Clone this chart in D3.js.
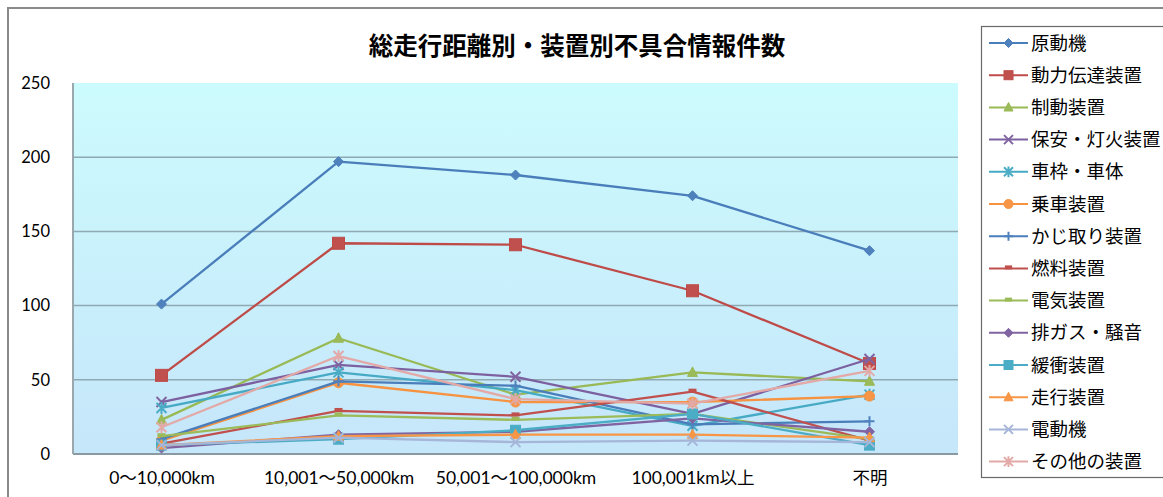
<!DOCTYPE html>
<html>
<head>
<meta charset="utf-8">
<script src="https://cdn.jsdelivr.net/npm/d3@7"></script>
<style>
  html, body { margin: 0; padding: 0; background: #fff; }
  svg { display: block; }
</style>
</head>
<body>
<svg id="chart" width="1163" height="497"></svg>
<script>
// Mileage bands on the horizontal axis
const categories = ["0～10,000km", "10,001～50,000km", "50,001～100,000km", "100,001km以上", "不明"];

// Defect reports per device group, one array per band order above
const seriesNames = ["原動機", "動力伝達装置", "制動装置", "保安・灯火装置", "車枠・車体", "乗車装置", "かじ取り装置",
                     "燃料装置", "電気装置", "排ガス・騒音", "緩衝装置", "走行装置", "電動機", "その他の装置"];
const genDoki     = [101, 197, 188, 174, 137];
const doryoku     = [53, 142, 141, 110, 61];
const seido       = [23, 78, 40, 55, 49];
const hoan        = [35, 60, 52, 27, 64];
const shawaku     = [31, 55, 43, 19, 40];
const josha       = [9, 48, 35, 35, 39];
const kajitori    = [10, 49, 46, 20, 22];
const nenryo      = [7, 29, 26, 42, 9];
const denki       = [12, 26, 23, 27, 10];
const haigas      = [4, 13, 15, 24, 15];
const kansho      = [6, 10, 16, 27, 6];
const soko        = [6, 12, 13, 13, 11];
const dendoki     = [6, 11, 8, 9, 8];
const sonota      = [18, 66, 37, 34, 56];
const seriesValues = [genDoki, doryoku, seido, hoan, shawaku, josha, kajitori,
                      nenryo, denki, haigas, kansho, soko, dendoki, sonota];

const yTicks = [0, 50, 100, 150, 200, 250];
const titleText = "総走行距離別・装置別不具合情報件数";

// Styling per series: line colour, marker fill and marker shape
const styles = [
  { line: "#4A7EBB", fill: "#4F81BD", shape: "diamond" },
  { line: "#BE4B48", fill: "#C0504D", shape: "square" },
  { line: "#98B954", fill: "#9BBB59", shape: "triangle" },
  { line: "#7D60A0", fill: "#8064A2", shape: "x" },
  { line: "#46AAC5", fill: "#4BACC6", shape: "asterisk" },
  { line: "#F69240", fill: "#F79646", shape: "circle" },
  { line: "#4A7EBB", fill: "#4F81BD", shape: "plus" },
  { line: "#C0504D", fill: "#C0504D", shape: "dash" },
  { line: "#9BBB59", fill: "#9BBB59", shape: "dash" },
  { line: "#8064A2", fill: "#8064A2", shape: "diamond" },
  { line: "#4BACC6", fill: "#4BACC6", shape: "square" },
  { line: "#F79646", fill: "#F79646", shape: "triangle" },
  { line: "#A5B6D8", fill: "#A5B6D8", shape: "x" },
  { line: "#E2A9A7", fill: "#E2A9A7", shape: "asterisk" }
];

const svg = d3.select("#chart");
const plot = { left: 73, right: 958, top: 83, bottom: 454 };

// Outer chart frame
svg.append("rect")
  .attr("x", 8).attr("y", 8).attr("width", 1170).attr("height", 500)
  .attr("fill", "#fff").attr("stroke", "#8a8a8a").attr("stroke-width", 2);

// Plot area gradient
const defs = svg.append("defs");
const grad = defs.append("linearGradient").attr("id", "plotBg")
  .attr("x1", 0).attr("y1", 0).attr("x2", 0).attr("y2", 1);
grad.append("stop").attr("offset", "0%").attr("stop-color", "#CCFBFD");
grad.append("stop").attr("offset", "100%").attr("stop-color", "#C6E6FA");

svg.append("rect")
  .attr("x", plot.left).attr("y", plot.top)
  .attr("width", plot.right - plot.left).attr("height", plot.bottom - plot.top)
  .attr("fill", "url(#plotBg)");

const x = d3.scalePoint().domain(categories).range([plot.left, plot.right]).padding(0.5);
const y = d3.scaleLinear().domain([0, 250]).range([plot.bottom, plot.top]);

// Horizontal gridlines
svg.append("g")
  .selectAll("line")
  .data(yTicks.filter(t => t > 0 && t < 250))
  .join("line")
  .attr("x1", plot.left).attr("x2", plot.right)
  .attr("y1", d => y(d)).attr("y2", d => y(d))
  .attr("stroke", "#8FA9B3").attr("stroke-width", 1.5);

// Axis frame lines
svg.append("line")
  .attr("x1", plot.left).attr("x2", plot.right)
  .attr("y1", plot.bottom).attr("y2", plot.bottom)
  .attr("stroke", "#8a9aa2").attr("stroke-width", 2);
svg.append("line")
  .attr("x1", plot.left).attr("x2", plot.left)
  .attr("y1", plot.top).attr("y2", plot.bottom)
  .attr("stroke", "#9aa8ae").attr("stroke-width", 2);

// Y axis labels
const yAxis = svg.append("g")
  .attr("transform", `translate(${plot.left},0)`)
  .call(d3.axisLeft(y).tickValues(yTicks).tickSize(0).tickPadding(23));
yAxis.select(".domain").remove();
yAxis.selectAll("text")
  .attr("font-family", "Lato, 'Noto Sans CJK JP', sans-serif")
  .attr("font-size", 16.5).attr("fill", "#000");

// X axis labels
const xAxis = svg.append("g")
  .attr("transform", `translate(0,${plot.bottom})`)
  .call(d3.axisBottom(x).tickSize(0).tickPadding(18));
xAxis.select(".domain").remove();
xAxis.selectAll("text")
  .attr("font-family", "Lato, 'Noto Sans CJK JP', sans-serif")
  .attr("font-size", 17.5).attr("fill", "#000");

// Marker drawing
function drawMarker(g, shape, st, size) {
  const s = size;
  switch (shape) {
    case "diamond":
      g.append("path").attr("d", `M0,${-s}L${s},0L0,${s}L${-s},0Z`)
        .attr("fill", st.fill).attr("stroke", st.line).attr("stroke-width", 1);
      break;
    case "square":
      g.append("rect").attr("x", -s).attr("y", -s).attr("width", 2 * s).attr("height", 2 * s)
        .attr("fill", st.fill).attr("stroke", st.line).attr("stroke-width", 1);
      break;
    case "triangle":
      g.append("path").attr("d", `M0,${-s * 1.1}L${s},${s * 0.8}L${-s},${s * 0.8}Z`)
        .attr("fill", st.fill).attr("stroke", st.line).attr("stroke-width", 1);
      break;
    case "circle":
      g.append("circle").attr("r", s)
        .attr("fill", st.fill).attr("stroke", st.line).attr("stroke-width", 1);
      break;
    case "x":
      g.append("path").attr("d", `M${-s},${-s}L${s},${s}M${-s},${s}L${s},${-s}`)
        .attr("fill", "none").attr("stroke", st.fill).attr("stroke-width", 2);
      break;
    case "asterisk":
      g.append("path").attr("d", `M${-s},${-s}L${s},${s}M${-s},${s}L${s},${-s}M0,${-s * 1.2}L0,${s * 1.2}`)
        .attr("fill", "none").attr("stroke", st.fill).attr("stroke-width", 2);
      break;
    case "plus":
      g.append("path").attr("d", `M${-s},0L${s},0M0,${-s}L0,${s}`)
        .attr("fill", "none").attr("stroke", st.fill).attr("stroke-width", 2);
      break;
    case "dash":
      g.append("path").attr("d", `M${-s * 0.8},-1L${s * 0.8},-1`)
        .attr("fill", "none").attr("stroke", st.fill).attr("stroke-width", 4);
      break;
  }
}

// Series lines and markers
const line = d3.line().x((d, i) => x(categories[i])).y(d => y(d));
const seriesG = svg.append("g");
seriesValues.forEach((vals, si) => {
  const st = styles[si];
  const g = seriesG.append("g");
  g.append("path").datum(vals)
    .attr("d", line)
    .attr("fill", "none").attr("stroke", st.line).attr("stroke-width", 2.3)
    .attr("stroke-linejoin", "round");
  vals.forEach((v, i) => {
    const mg = g.append("g").attr("transform", `translate(${x(categories[i])},${y(v)})`);
    drawMarker(mg, st.shape, st, st.shape === "square" && si === 1 ? 6 : 5);
  });
});

// Title
svg.append("text")
  .attr("x", 577).attr("y", 55)
  .attr("text-anchor", "middle")
  .attr("font-family", "'Noto Sans CJK JP', sans-serif")
  .attr("font-weight", "bold")
  .attr("font-size", 24.5)
  .attr("fill", "#000")
  .text(titleText);

// Legend
const legend = svg.append("g");
legend.append("rect")
  .attr("x", 981.5).attr("y", 26.5).attr("width", 200).attr("height", 451)
  .attr("fill", "#fff").attr("stroke", "#6a6a6a").attr("stroke-width", 1.2);
seriesNames.forEach((name, i) => {
  const ly = 43 + i * 32.2;
  const st = styles[i];
  const item = legend.append("g");
  item.append("line")
    .attr("x1", 989).attr("x2", 1028).attr("y1", ly).attr("y2", ly)
    .attr("stroke", st.line).attr("stroke-width", 2);
  const mg = item.append("g").attr("transform", `translate(1008.5,${ly})`);
  drawMarker(mg, st.shape, st, 4.5);
  item.append("text")
    .attr("x", 1031).attr("y", ly)
    .attr("dy", "0.36em")
    .attr("font-family", "'Noto Sans CJK JP', sans-serif")
    .attr("font-size", 18.5)
    .attr("fill", "#000")
    .text(name);
});
</script>
</body>
</html>
